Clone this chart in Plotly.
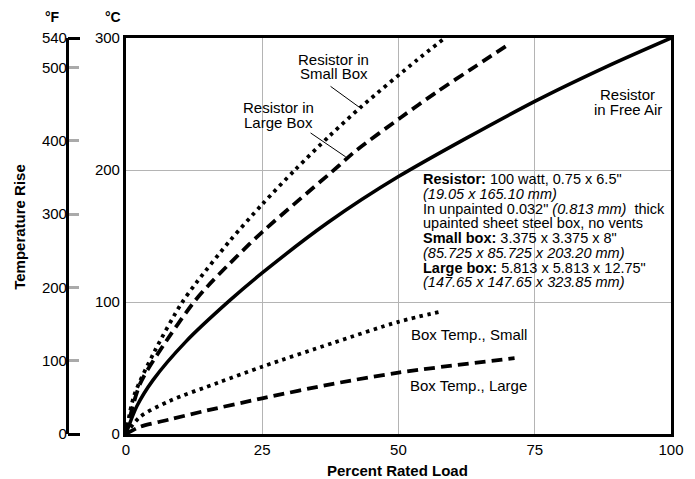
import plotly.graph_objects as go

# ---------------- data ----------------
load_free = [0, 2, 5, 11, 19, 25, 37, 50, 75, 88, 100]
temp_free = [0, 21, 41, 70, 101, 122, 160, 195, 252, 278, 300]

load_small_box = [0, 1.5, 5.3, 10.2, 13, 19, 25, 31, 37.4, 43.2, 53.3, 58.5]
temp_small_box = [0, 29, 63, 99, 115, 146, 174, 200, 226, 248, 283, 300]

load_large_box = [0, 2.6, 7.5, 12.3, 15, 19, 25, 39, 42, 50.5, 57, 64.3, 70.5]
temp_large_box = [0, 38, 71, 99, 112, 129, 153, 203, 214, 240, 259, 279, 296]

load_box_small = [0, 2.6, 8, 17, 25, 38, 50, 58]
temp_box_small = [0, 13, 25, 39, 51, 69, 85, 93]

load_box_large = [0, 2.6, 8, 14, 25, 38, 50, 71.3]
temp_box_large = [0, 5.5, 11, 17, 27, 38, 46.5, 57.5]

x_ticks = [0, 25, 50, 75, 100]
c_ticks = [0, 100, 200, 300]
f_ticks_minor = [100, 200, 300, 400, 500]
f_ticks_ends = [0, 540]

info_lines = [
    "<b>Resistor:</b> 100 watt, 0.75 x 6.5\"",
    "<i>(19.05 x 165.10 mm)</i>",
    "In unpainted 0.032\" <i>(0.813 mm)</i>  thick",
    "upainted sheet steel box, no vents",
    "<b>Small box:</b> 3.375 x 3.375 x 8\"",
    "<i>(85.725 x 85.725 x 203.20 mm)</i>",
    "<b>Large box:</b> 5.813 x 5.813 x 12.75\"",
    "<i>(147.65 x 147.65 x 323.85 mm)</i>",
]

# ---------------- layout geometry ----------------
OFF = 8                    # page body margin in the browser
W, H = 695 - OFF, 479 - OFF
# target screen pixels of the plot area
SX0, SX1, SY0, SY1 = 126, 671.5, 37.7, 434
L = 0
R = W - (SX1 - OFF)
T = SY0 - OFF
B = H - (SY1 - OFF)
PW = W - L - R
PH = H - T - B

FONT = "Liberation Sans, Arial, Helvetica, sans-serif"

def px_x(px):      # screen px -> paper x
    return (px - OFF - L) / PW

def px_y(py):      # screen px -> paper y
    return (SY1 - py) / PH

def dy(py):        # screen px -> data y (°C)
    return (SY1 - py) / (SY1 - SY0) * 300

def dx(px):        # screen px -> data x (%)
    return (px - SX0) / (SX1 - SX0) * 100

fig = go.Figure()

def add_line(xs, ys, dash, width):
    fig.add_trace(go.Scatter(
        x=xs, y=ys, mode="lines",
        line=dict(color="black", width=width, dash=dash, shape="spline", smoothing=0.8),
        showlegend=False, hoverinfo="skip"))

add_line(load_free, temp_free, "solid", 3.5)
add_line(load_small_box, temp_small_box, "3.5px,4.5px", 3.8)
add_line(load_large_box, temp_large_box, "11px,6px", 3.8)
add_line(load_box_small, temp_box_small, "3.5px,4.5px", 3.8)
add_line(load_box_large, temp_box_large, "11px,6px", 3.8)

# empty traces so that the °F axes get drawn
for ya in ["y2", "y3", "y4"]:
    fig.add_trace(go.Scatter(x=[], y=[], yaxis=ya, showlegend=False, hoverinfo="skip"))

grid = "#b4b4b4"
TICKFONT = dict(size=15, family=FONT, color="black")
FPOS = px_x(67)

fig.update_layout(
    width=W, height=H, autosize=False,
    margin=dict(l=L, r=R, t=T, b=B, pad=0),
    paper_bgcolor="white", plot_bgcolor="white",
    font=dict(family=FONT, size=15, color="black"),
    showlegend=False,
    xaxis=dict(
        domain=[px_x(SX0), 1], range=[0, 100], tickvals=x_ticks,
        showgrid=True, gridcolor=grid, gridwidth=1, zeroline=False,
        showline=True, linecolor="black", linewidth=3, mirror=True,
        ticks="", tickfont=TICKFONT, automargin=False,
        fixedrange=True,
    ),
    yaxis=dict(
        range=[0, 300], tickvals=c_ticks,
        showgrid=True, gridcolor=grid, gridwidth=1, zeroline=False,
        showline=True, linecolor="black", linewidth=3, mirror=True,
        ticks="", tickfont=TICKFONT, automargin=False,
        fixedrange=True,
    ),
    # °F scale: line with gray ticks pointing right
    yaxis2=dict(
        overlaying="y", anchor="free", position=FPOS, side="right",
        range=[0, 540], tickvals=f_ticks_minor,
        ticks="outside", ticklen=10, tickwidth=2.5, tickcolor="#aaaaaa",
        showticklabels=False,
        showline=True, linecolor="black", linewidth=3,
        showgrid=False, zeroline=False, automargin=False,
        fixedrange=True,
    ),
    # black end ticks at 0 and 540
    yaxis3=dict(
        overlaying="y", anchor="free", position=FPOS, side="right",
        range=[0, 540], tickvals=f_ticks_ends,
        ticks="outside", ticklen=12, tickwidth=3, tickcolor="black",
        showticklabels=False,
        showline=False, showgrid=False, zeroline=False, automargin=False,
        fixedrange=True,
    ),
    # °F tick labels on the left of the line
    yaxis4=dict(
        overlaying="y", anchor="free", position=FPOS, side="left",
        range=[0, 540], tickvals=f_ticks_ends + f_ticks_minor, ticks="",
        showline=False, showgrid=False, zeroline=False, automargin=False,
        tickfont=TICKFONT, fixedrange=True,
    ),
)

ann = []

def text_data(x, y, txt, xanchor="center", size=15):
    ann.append(dict(x=x, y=y, xref="x", yref="y", text=txt, showarrow=False,
                    xanchor=xanchor, yanchor="middle",
                    font=dict(family=FONT, size=size, color="black")))

def text_paper(x, y, txt, size=15, angle=0):
    ann.append(dict(x=x, y=y, xref="paper", yref="paper", text=txt, showarrow=False,
                    xanchor="center", yanchor="middle", textangle=angle,
                    font=dict(family=FONT, size=size, color="black")))

# curve labels (one annotation per line to match tight leading)
text_data(dx(334), dy(59), "Resistor in")
text_data(dx(334), dy(73.7), "Small Box")
text_data(dx(279), dy(107.3), "Resistor in")
text_data(dx(279), dy(122), "Large Box")
text_data(dx(628), dy(94), "Resistor")
text_data(dx(628), dy(109), "in Free Air")
text_data(dx(469), dy(334), "Box Temp., Small")
text_data(dx(469), dy(385.7), "Box Temp., Large")

# info block
info_y = [179.3, 194.3, 208.8, 223.3, 237.7, 253, 267.5, 282.3]
for yy, line in zip(info_y, info_lines):
    text_data(dx(421.7), dy(yy), line, xanchor="left", size=14.5)

# pointer lines
def pointer(tip, tail):
    ann.append(dict(x=dx(tip[0]), y=dy(tip[1]), xref="x", yref="y",
                    ax=dx(tail[0]), ay=dy(tail[1]), axref="x", ayref="y",
                    text="", showarrow=True, arrowhead=0, arrowwidth=1,
                    arrowcolor="black", standoff=0, startstandoff=0))

pointer((360, 107.3), (329.3, 85))
pointer((346, 156.7), (309.3, 131.7))

# axis titles and unit labels
text_paper(px_x(398), px_y(470.7), "<b>Percent Rated Load</b>", size=15)
text_paper(px_x(20), px_y(226.7), "<b>Temperature Rise</b>", size=15, angle=-90)
text_paper(px_x(53), px_y(17), "<b>°F</b>", size=14)
text_paper(px_x(113), px_y(17), "<b>°C</b>", size=14)

fig.update_layout(annotations=ann)

fig.write_html("out.html")
